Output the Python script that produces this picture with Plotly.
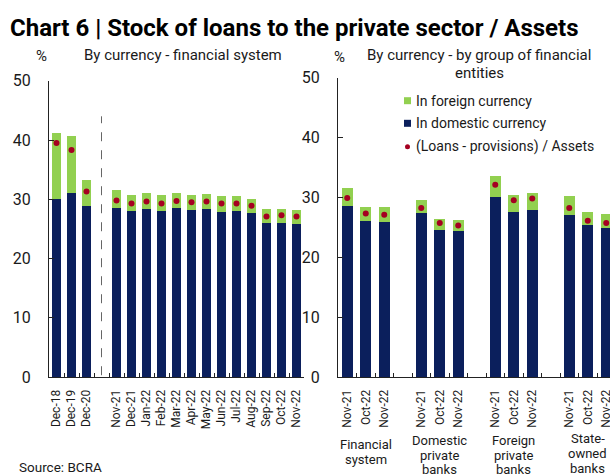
import plotly.graph_objects as go

# ---------------- data ----------------
left_dates = ["Dec-18", "Dec-19", "Dec-20",
              "Nov-21", "Dec-21", "Jan-22", "Feb-22", "Mar-22", "Apr-22", "May-22",
              "Jun-22", "Jul-22", "Aug-22", "Sep-22", "Oct-22", "Nov-22"]
left_domestic = [30.1, 31.0, 28.8, 28.5, 28.0, 28.3, 28.0, 28.5, 28.2, 28.3,
                 27.9, 28.1, 27.6, 26.0, 26.0, 25.9]
left_foreign = [11.0, 9.7, 4.5, 3.0, 2.8, 2.8, 2.8, 2.6, 2.6, 2.6,
                2.6, 2.4, 2.4, 2.3, 2.4, 2.3]
left_net = [39.5, 38.3, 31.3, 29.8, 29.3, 29.6, 29.3, 29.7, 29.5, 29.6,
            29.3, 29.3, 28.9, 27.1, 27.3, 27.1]

groups = [["Financial", "system"], ["Domestic", "private", "banks"],
          ["Foreign", "private", "banks"], ["State-", "owned", "banks"]]
group_dates = ["Nov-21", "Oct-22", "Nov-22"]
right_domestic = [[28.5, 26.0, 25.9], [27.4, 24.6, 24.3], [30.1, 27.5, 27.9], [27.1, 25.3, 24.9]]
right_foreign = [[3.0, 2.4, 2.4], [2.2, 1.8, 1.9], [3.5, 2.9, 2.8], [3.1, 2.3, 2.3]]
right_net = [[29.9, 27.3, 27.1], [28.2, 25.7, 25.3], [32.1, 29.5, 29.8], [28.2, 26.1, 25.7]]

y_ticks = [0, 10, 20, 30, 40, 50]

# ---------------- style ----------------
NAVY = "#0B1F5C"
GREEN = "#92D050"
RED = "#A50021"
FONT = "Roboto"
TXT = "#1a1a1a"
W, H = 610, 475


def px(x):
    return x / W


def py(y):
    return 1 - y / H


# left categories with a blank slot after Dec-20
left_cats = left_dates[:3] + [" "] + left_dates[3:]

# right categories: unique keys (leading spaces), blank slots between groups
right_keys = []
right_cats = []
for g in range(len(groups)):
    keys = [" " * g + d for d in group_dates]
    right_keys.append(keys)
    right_cats += keys
    if g < len(groups) - 1:
        right_cats.append("\u2002" * (g + 1))

fig = go.Figure()

# left panel
fig.add_trace(go.Bar(x=left_dates, y=left_domestic, marker_color=NAVY, width=0.58,
                     marker_line_width=0, xaxis="x", yaxis="y", showlegend=False,
                     name="In domestic currency"))
fig.add_trace(go.Bar(x=left_dates, y=left_foreign, marker_color=GREEN, width=0.58,
                     marker_line_width=0, xaxis="x", yaxis="y", showlegend=False,
                     name="In foreign currency"))
fig.add_trace(go.Scatter(x=left_dates, y=left_net, mode="markers",
                         marker=dict(color=RED, size=6), xaxis="x", yaxis="y",
                         showlegend=False, name="(Loans - provisions) / Assets"))

# right panel
rx = [k for keys in right_keys for k in keys]
rd = [v for vals in right_domestic for v in vals]
rf = [v for vals in right_foreign for v in vals]
rn = [v for vals in right_net for v in vals]
fig.add_trace(go.Bar(x=rx, y=rd, marker_color=NAVY, width=0.6, marker_line_width=0,
                     xaxis="x2", yaxis="y2", showlegend=False))
fig.add_trace(go.Bar(x=rx, y=rf, marker_color=GREEN, width=0.6, marker_line_width=0,
                     xaxis="x2", yaxis="y2", showlegend=False))
fig.add_trace(go.Scatter(x=rx, y=rn, mode="markers", marker=dict(color=RED, size=6),
                         xaxis="x2", yaxis="y2", showlegend=False))

xcommon = dict(type="category", showline=True, linecolor="#222", linewidth=1,
               ticks="inside", ticklen=4, tickcolor="#222", tickson="boundaries",
               tickmode="linear", tick0=0, dtick=1, tickangle=-90,
               tickfont=dict(family=FONT, size=12, color=TXT), showgrid=False,
               zeroline=False, ticklabelstandoff=7, automargin=False)
ycommon = dict(range=[0, 50], tickvals=y_ticks, showline=True, linecolor="#222",
               linewidth=1, ticks="inside", ticklen=5, tickcolor="#222",
               tickfont=dict(family=FONT, size=16, color=TXT), showgrid=False,
               zeroline=False, ticklabelstandoff=14, automargin=False)

fig.update_layout(
    width=W, height=H, margin=dict(l=0, r=0, t=0, b=0, pad=0, autoexpand=False),
    paper_bgcolor="white", plot_bgcolor="white", barmode="stack", bargap=0.4,
    showlegend=False,
    xaxis=dict(xcommon, domain=[px(49), px(304)], anchor="y",
               categoryorder="array", categoryarray=left_cats,
               range=[-0.5, len(left_cats) - 0.5]),
    yaxis=dict(ycommon, domain=[py(377), py(80.75)], anchor="x"),
    xaxis2=dict(xcommon, domain=[px(338), 1.0], anchor="y2",
                categoryorder="array", categoryarray=right_cats,
                range=[-0.5, -0.5 + (W - 338) / 18.5]),
    yaxis2=dict(ycommon, domain=[py(377), py(77.5)], anchor="x2"),
)

# dashed separator in left panel
fig.add_shape(type="line", xref="x", yref="y", x0=" ", x1=" ", y0=0.3, y1=44,
              line=dict(color="#666", width=1, dash="dash"))

ann = []
ann.append(dict(text="<b>Chart 6 | Stock of loans to the private sector / Assets</b>",
                x=px(7.5), y=py(28), xanchor="left", yanchor="middle",
                font=dict(family=FONT, size=24, color="black")))
ann.append(dict(text="%", x=px(41), y=py(56), xanchor="center", yanchor="middle",
                font=dict(family=FONT, size=15, color=TXT)))
ann.append(dict(text="By currency - financial system", x=px(82), y=py(55),
                xanchor="left", yanchor="middle", font=dict(family=FONT, size=15, color=TXT)))
ann.append(dict(text="%", x=px(339), y=py(57), xanchor="center", yanchor="middle",
                font=dict(family=FONT, size=15, color=TXT)))
ann.append(dict(text="By currency - by group of financial", x=px(479), y=py(55),
                xanchor="center", yanchor="middle",
                font=dict(family=FONT, size=15, color=TXT)))
ann.append(dict(text="entities", x=px(479), y=py(73),
                xanchor="center", yanchor="middle",
                font=dict(family=FONT, size=15, color=TXT)))
ann.append(dict(text="Source: BCRA", x=px(17), y=py(466.5), xanchor="left", yanchor="middle",
                font=dict(family=FONT, size=13.5, color=TXT)))

line_centers = [[444, 459], [440, 455, 469.5], [440, 455, 469.5], [438, 453, 468]]
for g, lines in enumerate(groups):
    for line, yc in zip(lines, line_centers[g]):
        ann.append(dict(text=line, x=right_keys[g][1], xref="x2", y=py(yc),
                        yref="paper", xanchor="center", yanchor="middle",
                        font=dict(family=FONT, size=13, color=TXT)))

legend_items = [("In foreign currency", GREEN, "square", 100.7),
                ("In domestic currency", NAVY, "square", 123.3),
                ("(Loans - provisions) / Assets", RED, "dot", 146.7)]
for label, col, kind, yc in legend_items:
    ann.append(dict(text=label, x=px(414), y=py(yc), xanchor="left", yanchor="middle",
                    font=dict(family=FONT, size=14, color=TXT)))
    if kind == "square":
        fig.add_shape(type="rect", xref="paper", yref="paper",
                      x0=px(404), x1=px(411), y0=py(yc + 3.5), y1=py(yc - 3.5),
                      fillcolor=col, line_width=0)
    else:
        fig.add_shape(type="circle", xref="paper", yref="paper",
                      x0=px(405), x1=px(410), y0=py(yc + 2.5), y1=py(yc - 2.5),
                      fillcolor=col, line_width=0)

for a in ann:
    a.setdefault("xref", "paper")
    a.setdefault("yref", "paper")
    a["showarrow"] = False
    fig.add_annotation(**a)

fig.write_html("out.html")
